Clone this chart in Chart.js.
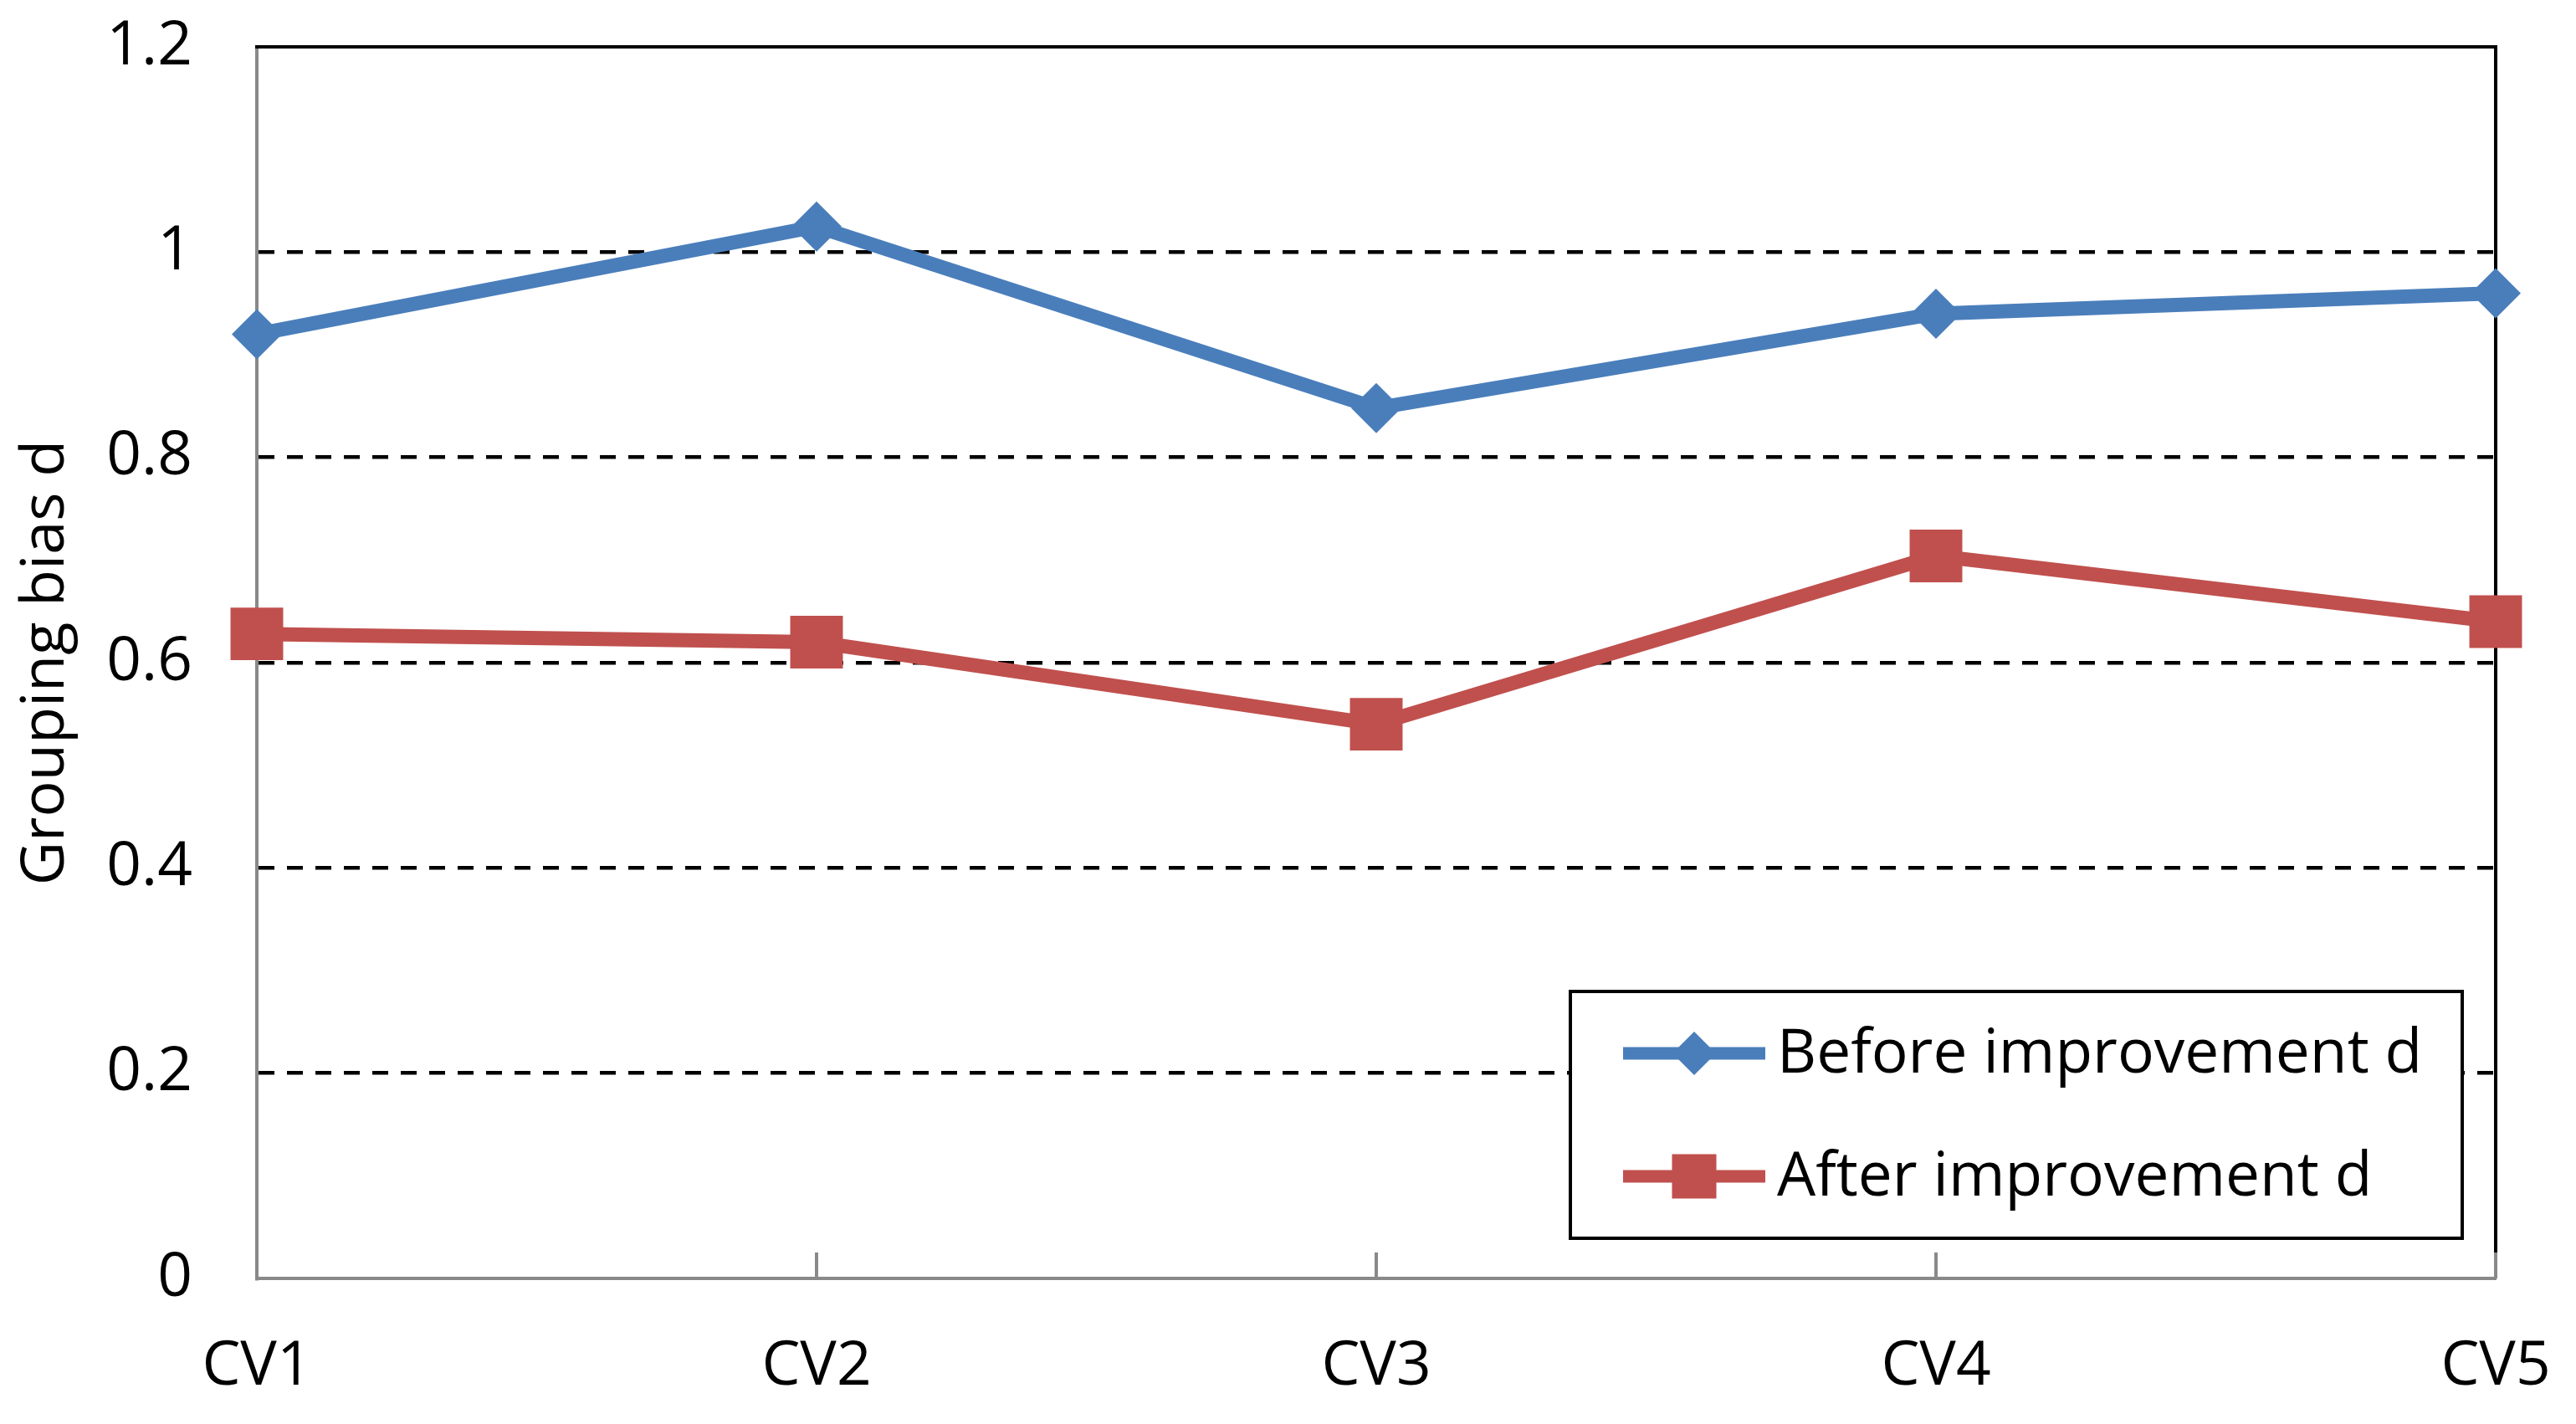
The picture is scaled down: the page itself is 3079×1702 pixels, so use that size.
<!DOCTYPE html>
<html>
<head>
<meta charset="utf-8">
<script src="https://cdn.jsdelivr.net/npm/chart.js@4.4.1/dist/chart.umd.min.js"></script>
<style>
  html, body { margin: 0; padding: 0; background: #ffffff; }
  canvas { display: block; }
</style>
</head>
<body>
<canvas id="c" width="3079" height="1702"></canvas>
<script>
const categories = ['CV1', 'CV2', 'CV3', 'CV4', 'CV5'];
const beforeValues = [0.92, 1.025, 0.848, 0.94, 0.96];
const afterValues = [0.628, 0.62, 0.54, 0.704, 0.64];
const yTickValues = [0, 0.2, 0.4, 0.6, 0.8, 1.0, 1.2];
const seriesLabels = ['Before improvement d', 'After improvement d'];
const yAxisTitle = 'Grouping bias d';

const FONT = "'Open Sans', Lato, sans-serif";
const BLUE = '#4A7EBB';
const RED = '#C0504D';
const GRAY = '#898989';

const framePlugin = {
  id: 'frame',
  beforeDatasetsDraw(chart) {
    const { ctx, chartArea: a } = chart;
    ctx.save();
    ctx.lineCap = 'butt';
    ctx.strokeStyle = '#000';
    ctx.lineWidth = 4;
    ctx.beginPath();
    ctx.moveTo(a.left - 2, a.top);
    ctx.lineTo(a.right + 2, a.top);
    ctx.moveTo(a.right, a.top);
    ctx.lineTo(a.right, a.bottom - 31);
    ctx.stroke();
    // inward x tick marks
    const xs = chart.scales.x;
    ctx.strokeStyle = GRAY;
    ctx.beginPath();
    xs.ticks.forEach((t, i) => {
      const px = xs.getPixelForTick(i);
      ctx.moveTo(px, a.bottom);
      ctx.lineTo(px, a.bottom - 31);
    });
    ctx.stroke();
    ctx.restore();
  },
  afterDatasetsDraw(chart) {
    const { ctx, chartArea: a } = chart;
    const right = a.right - 40, bottom = a.bottom - 48;
    const w = 1066, h = 295;
    const left = right - w, top = bottom - h;
    ctx.save();
    ctx.fillStyle = '#fff';
    ctx.fillRect(left, top, w, h);
    ctx.strokeStyle = '#000';
    ctx.lineWidth = 4;
    ctx.strokeRect(left, top, w, h);
    const rows = [top + 74, top + 221];
    chart.data.datasets.forEach((ds, i) => {
      const y = rows[i];
      const x0 = left + 63, x1 = left + 233;
      ctx.strokeStyle = ds.borderColor;
      ctx.lineWidth = 15;
      ctx.beginPath();
      ctx.moveTo(x0, y);
      ctx.lineTo(x1, y);
      ctx.stroke();
      ctx.fillStyle = ds.borderColor;
      Chart.helpers.drawPoint(ctx, {
        pointStyle: ds.pointStyle,
        radius: i === 0 ? 26 : 37.5,
        borderWidth: 0,
        rotation: 0
      }, (x0 + x1) / 2, y);
      ctx.fillStyle = '#000';
      ctx.font = "73px " + FONT;
      ctx.textBaseline = 'middle';
      ctx.textAlign = 'left';
      ctx.fillText(ds.label, left + 247, y + 2);
    });
    ctx.restore();
  }
};

new Chart(document.getElementById('c'), {
  type: 'line',
  data: {
    labels: categories,
    datasets: [
      {
        label: seriesLabels[0],
        data: beforeValues,
        borderColor: BLUE,
        backgroundColor: BLUE,
        borderWidth: 17,
        pointStyle: 'rectRot',
        pointRadius: 30,
        pointBorderWidth: 0,
        pointBackgroundColor: BLUE,
        tension: 0,
        clip: false
      },
      {
        label: seriesLabels[1],
        data: afterValues,
        borderColor: RED,
        backgroundColor: RED,
        borderWidth: 17,
        pointStyle: 'rect',
        pointRadius: 44.5,
        pointBorderWidth: 0,
        pointBackgroundColor: RED,
        tension: 0,
        clip: false
      }
    ]
  },
  options: {
    responsive: false,
    devicePixelRatio: 1,
    animation: false,
    layout: { padding: { left: 0, right: 96, top: 56, bottom: 0 } },
    plugins: { legend: { display: false }, tooltip: { enabled: false } },
    scales: {
      x: {
        type: 'category',
        offset: false,
        grid: { drawOnChartArea: false, drawTicks: true, tickLength: 62, tickColor: 'rgba(0,0,0,0)' },
        border: { display: true, color: GRAY, width: 4 },
        ticks: { color: '#000', font: { family: FONT, size: 73 }, padding: 0, maxRotation: 0 },
        afterFit(s) { s.height = 174; }
      },
      y: {
        min: 0,
        max: 1.2,
        afterBuildTicks(s) { s.ticks = yTickValues.map(v => ({ value: v })); },
        grid: {
          drawTicks: true,
          tickLength: 77,
          tickColor: 'rgba(0,0,0,0)',
          lineWidth: 4.5,
          color: (c) => (c.tick && (c.tick.value === 0 || c.tick.value === 1.2)) ? 'rgba(0,0,0,0)' : '#000'
        },
        border: { display: true, color: GRAY, width: 4, dash: [19, 15] },
        ticks: {
          color: '#000',
          font: { family: FONT, size: 73 },
          padding: 0,
          callback: (v) => String(Math.round(v * 10) / 10)
        },
        title: {
          display: true,
          text: yAxisTitle,
          color: '#000',
          font: { family: FONT, size: 72 },
          padding: { top: 12, bottom: 0 }
        },
        afterFit(s) { s.width = 307; }
      }
    }
  },
  plugins: [framePlugin]
});
</script>
</body>
</html>
